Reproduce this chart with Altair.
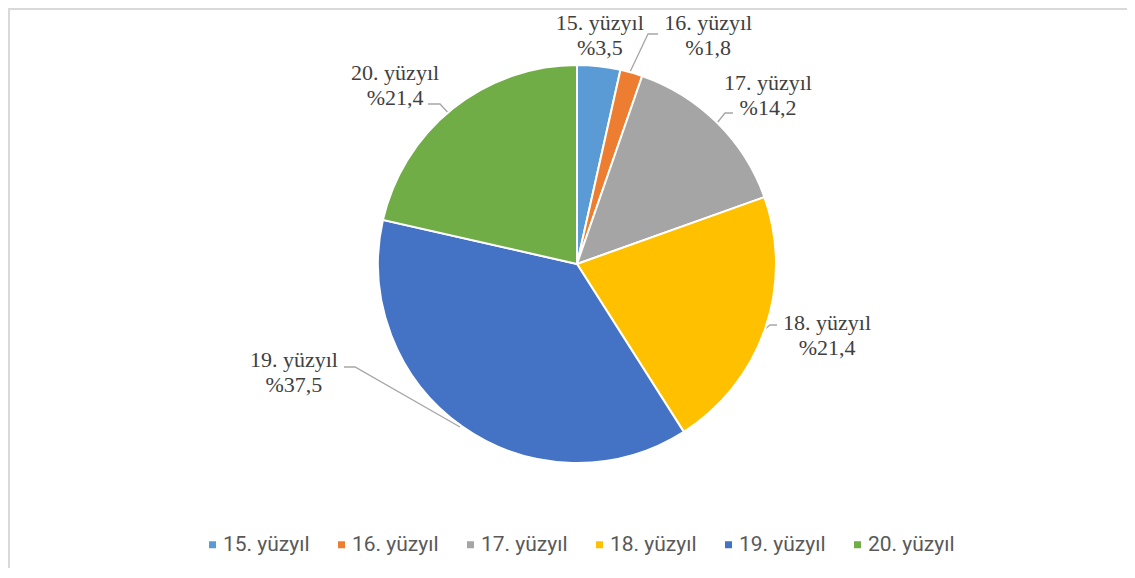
import altair as alt
import pandas as pd
import numpy as np

# ---- data ----
CATEGORIES = ["15. yüzyıl", "16. yüzyıl", "17. yüzyıl", "18. yüzyıl", "19. yüzyıl", "20. yüzyıl"]
VALUES = [3.5, 1.8, 14.2, 21.4, 37.5, 21.4]
VALUE_LABELS = ["%3,5", "%1,8", "%14,2", "%21,4", "%37,5", "%21,4"]
COLORS = ["#5B9BD5", "#ED7D31", "#A5A5A5", "#FFC000", "#4472C4", "#70AD47"]

# ---- layout ----
W, H = 1119, 560
CX, CY = 569, 256
R = 199
LABEL_ANGLE_DEG = [5.7, 29.8, 48.5, 105.9, 249.1, 314.5]
LABEL_DIST = [230, 264, 255, 260, 303, 255]
# leader lines: offsets from pie centre (pixels)
LEADERS = {
    "16": [(53, -192), (71, -230), (81, -230)],
    "17": [(140, -141), (148, -151), (156, -151)],
    "18": [(188, 65), (193, 61), (200, 61)],
    "19": [(-117, 163), (-222, 103), (-233, 103)],
    "20": [(-125, -147), (-137, -160), (-149, -160)],
}

LABEL_FONT = "Liberation Serif"
LEGEND_FONT = "Roboto"

pie_df = pd.DataFrame({
    "category": CATEGORIES,
    "value": VALUES,
    "idx": list(range(len(CATEGORIES))),
})

lab_df = pd.DataFrame({
    "label": [f"{c}\n{v}" for c, v in zip(CATEGORIES, VALUE_LABELS)],
    "ang": np.radians(LABEL_ANGLE_DEG),
    "dist": LABEL_DIST,
})

rows = []
for k, pts in LEADERS.items():
    for i, (dx, dy) in enumerate(pts):
        rows.append({"id": k, "ord": i, "px": CX + dx, "py": CY + dy})
lead_df = pd.DataFrame(rows)

pie = alt.Chart(pie_df).mark_arc(outerRadius=R, stroke="white", strokeWidth=2).encode(
    theta=alt.Theta("value:Q", stack=True),
    color=alt.Color(
        "category:N",
        sort=CATEGORIES,
        scale=alt.Scale(domain=CATEGORIES, range=COLORS),
        legend=alt.Legend(
            title=None,
            orient="none",
            legendX=194,
            legendY=526,
            padding=0,
            direction="horizontal",
            symbolType="square",
            symbolSize=49,
            symbolStrokeWidth=0,
            symbolOffset=0,
            labelFont=LEGEND_FONT,
            labelFontSize=21,
            labelColor="#595959",
            labelOffset=0,
            columnPadding=21,
            labelLimit=300,
        ),
    ),
    order=alt.Order("idx:Q"),
    x=alt.value(CX),
    y=alt.value(CY),
)

labels = alt.Chart(lab_df).mark_text(
    font=LABEL_FONT, fontSize=22, color="#404040", lineBreak="\n",
    lineHeight=25, align="center", baseline="middle", dy=-12,
).encode(
    theta=alt.Theta("ang:Q", scale=None),
    radius=alt.Radius("dist:Q", scale=None),
    text="label:N",
    x=alt.value(CX),
    y=alt.value(CY),
)

leaders = alt.Chart(lead_df).mark_line(color="#A6A6A6", strokeWidth=1.3).encode(
    x=alt.X("px:Q", scale=None),
    y=alt.Y("py:Q", scale=None),
    detail="id:N",
    order="ord:Q",
)

one = pd.DataFrame({"a": [0]})
left_border = alt.Chart(one).mark_rule(color="#D9D9D9", strokeWidth=2).encode(
    x=alt.value(1), y=alt.value(0), y2=alt.value(H)
)
top_border = alt.Chart(one).mark_rule(color="#D9D9D9", strokeWidth=2).encode(
    y=alt.value(1), x=alt.value(0), x2=alt.value(W)
)

chart = alt.layer(left_border, top_border, leaders, pie, labels).resolve_scale(
    theta="independent", radius="independent"
).properties(
    width=W, height=H, padding=0, autosize=alt.AutoSizeParams(type="none"),
    background="white",
).configure_view(stroke=None)

chart.save("out.html", embed_options={"renderer": "svg", "actions": False})
